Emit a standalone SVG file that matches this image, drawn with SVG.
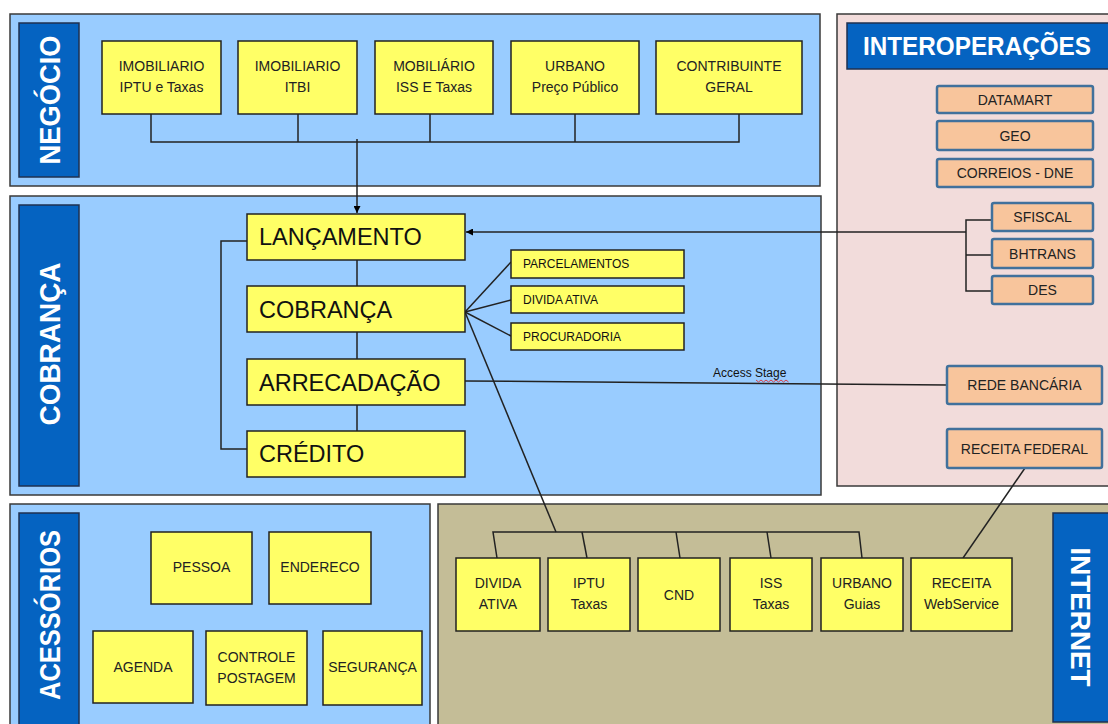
<svg xmlns="http://www.w3.org/2000/svg" width="1108" height="724" viewBox="0 0 1108 724">
<defs>
<marker id="arr" viewBox="0 0 10 10" refX="10" refY="5" markerWidth="7" markerHeight="7" orient="auto" markerUnits="userSpaceOnUse"><path d="M0,0 L10,5 L0,10 z" fill="#000"/></marker>
<style>
.panel{stroke:#3a3a3a;stroke-width:1.5}
.blue{fill:#99ccff}
.pink{fill:#f2dcdb}
.khaki{fill:#c4bd97}
.lab{fill:#0563c1;stroke:#1f3050;stroke-width:1.5}
.labt{font-family:"Liberation Sans",Arial,sans-serif;font-weight:bold;fill:#fff;text-anchor:middle}
.y{fill:#ffff66;stroke:#222;stroke-width:1.5}
.o{fill:#f8c59c;stroke:#41719c;stroke-width:2.5}
.t{font-family:"Liberation Sans",Arial,sans-serif;font-size:14px;fill:#222;text-anchor:middle}
.tb{font-family:"Liberation Sans",Arial,sans-serif;font-size:23.5px;fill:#111}
.ts{font-family:"Liberation Sans",Arial,sans-serif;font-size:12px;fill:#111}
.c{fill:none;stroke:#222;stroke-width:1.5}
</style>
</defs>
<rect width="1108" height="724" fill="#fff"/>
<g id="panel-negocio">
<rect class="panel blue" x="10" y="14" width="810" height="172"/>
<rect class="lab" x="19" y="23" width="60" height="154"/>
<text class="labt" font-size="30" textLength="129" lengthAdjust="spacingAndGlyphs" transform="translate(60,100) rotate(-90)">NEGÓCIO</text>
</g>
<g id="panel-cobranca">
<rect class="panel blue" x="10" y="196" width="811" height="299"/>
<rect class="lab" x="19" y="205" width="60" height="281"/>
<text class="labt" font-size="30" textLength="163" lengthAdjust="spacingAndGlyphs" transform="translate(60,344) rotate(-90)">COBRANÇA</text>
</g>
<g id="panel-interop">
<rect class="panel pink" x="837" y="14" width="285" height="472"/>
<rect class="lab" x="847" y="23" width="270" height="46"/>
<text class="labt" font-size="26" x="977" y="55" textLength="228" lengthAdjust="spacingAndGlyphs">INTEROPERAÇÕES</text>
</g>
<g id="panel-acessorios">
<rect class="panel blue" x="10" y="504" width="420" height="230"/>
<rect class="lab" x="19" y="513" width="60" height="215"/>
<text class="labt" font-size="30" textLength="170" lengthAdjust="spacingAndGlyphs" transform="translate(60,615) rotate(-90)">ACESSÓRIOS</text>
</g>
<g id="panel-internet">
<rect class="panel khaki" x="438" y="504" width="690" height="230"/>
<rect class="lab" x="1053" y="513" width="65" height="209"/>
<text class="labt" font-size="27" textLength="139" lengthAdjust="spacingAndGlyphs" transform="translate(1071,617) rotate(90)">INTERNET</text>
</g>
<g id="connectors">
<polyline class="c" points="151,114 151,142 739,142 739,114"/>
<line class="c" x1="298" y1="114" x2="298" y2="142"/>
<line class="c" x1="430" y1="114" x2="430" y2="142"/>
<line class="c" x1="575" y1="114" x2="575" y2="142"/>
<line class="c" x1="357" y1="139" x2="357" y2="213" marker-end="url(#arr)"/>
<line class="c" x1="357" y1="260" x2="357" y2="286"/>
<line class="c" x1="357" y1="332" x2="357" y2="359"/>
<line class="c" x1="357" y1="405" x2="357" y2="431"/>
<polyline class="c" points="247,241 221,241 221,449 247,449"/>
<line class="c" x1="465" y1="312" x2="511" y2="262"/>
<line class="c" x1="465" y1="312" x2="511" y2="300"/>
<line class="c" x1="465" y1="312" x2="511" y2="336"/>
<line class="c" x1="465" y1="312" x2="556" y2="532"/>
<polyline class="c" points="497,558 493,532 859,532 862,558"/>
<line class="c" x1="582" y1="532" x2="587" y2="558"/>
<line class="c" x1="676" y1="532" x2="680" y2="558"/>
<line class="c" x1="767" y1="532" x2="771" y2="558"/>
<polyline class="c" points="992,220 966,220 966,291 992,291"/>
<line class="c" x1="966" y1="255" x2="992" y2="255"/>
<line class="c" x1="966" y1="232" x2="466" y2="232" marker-end="url(#arr)"/>
<line class="c" x1="465" y1="381" x2="947" y2="385"/>
<line class="c" x1="1025" y1="468" x2="963" y2="558"/>
<text class="ts" font-size="11.5" x="713" y="377" fill="#222">Access Stage</text>
<path d="M756,380 l2.5,2 l2.5,-2 l2.5,2 l2.5,-2 l2.5,2 l2.5,-2 l2.5,2 l2.5,-2 l2.5,2 l2.5,-2 l2.5,2 l2.5,-2 l2.5,2" fill="none" stroke="#e03030" stroke-width="0.9"/>
</g>
<g id="n-imob-iptu"><rect class="y" x="102" y="41" width="119" height="73"/><text class="t" x="161.5" y="71">IMOBILIARIO</text><text class="t" x="161.5" y="92">IPTU e Taxas</text></g>
<g id="n-imob-itbi"><rect class="y" x="238" y="41" width="119" height="73"/><text class="t" x="297.5" y="71">IMOBILIARIO</text><text class="t" x="297.5" y="92">ITBI</text></g>
<g id="n-mob-iss"><rect class="y" x="375" y="41" width="118" height="73"/><text class="t" x="434" y="71">MOBILIÁRIO</text><text class="t" x="434" y="92">ISS E Taxas</text></g>
<g id="n-urbano"><rect class="y" x="511" y="41" width="128" height="73"/><text class="t" x="575" y="71">URBANO</text><text class="t" x="575" y="92">Preço Público</text></g>
<g id="n-contrib"><rect class="y" x="656" y="41" width="146" height="73"/><text class="t" x="729" y="71">CONTRIBUINTE</text><text class="t" x="729" y="92">GERAL</text></g>
<g id="n-lancamento"><rect class="y" x="247" y="214" width="218" height="46"/><text class="tb" x="259" y="245">LANÇAMENTO</text></g>
<g id="n-cobranca"><rect class="y" x="247" y="286" width="218" height="46"/><text class="tb" x="259" y="318">COBRANÇA</text></g>
<g id="n-arrecadacao"><rect class="y" x="247" y="359" width="218" height="46"/><text class="tb" x="259" y="391">ARRECADAÇÃO</text></g>
<g id="n-credito"><rect class="y" x="247" y="431" width="218" height="46"/><text class="tb" x="259" y="462">CRÉDITO</text></g>
<g id="n-parcel"><rect class="y" x="511" y="250" width="173" height="28"/><text class="ts" x="523" y="268">PARCELAMENTOS</text></g>
<g id="n-divida"><rect class="y" x="511" y="286" width="173" height="27"/><text class="ts" x="523" y="304">DIVIDA ATIVA</text></g>
<g id="n-procur"><rect class="y" x="511" y="323" width="173" height="27"/><text class="ts" x="523" y="341">PROCURADORIA</text></g>
<g id="n-datamart"><rect class="o" x="937" y="86" width="156" height="27" rx="2"/><text class="t" x="1015" y="104.5">DATAMART</text></g>
<g id="n-geo"><rect class="o" x="937" y="121" width="156" height="29" rx="2"/><text class="t" x="1015" y="140.5">GEO</text></g>
<g id="n-correios"><rect class="o" x="937" y="159" width="156" height="28" rx="2"/><text class="t" x="1015" y="178">CORREIOS - DNE</text></g>
<g id="n-sfiscal"><rect class="o" x="992" y="203" width="101" height="28" rx="2"/><text class="t" x="1042.5" y="222">SFISCAL</text></g>
<g id="n-bhtrans"><rect class="o" x="992" y="239" width="101" height="29" rx="2"/><text class="t" x="1042.5" y="258.5">BHTRANS</text></g>
<g id="n-des"><rect class="o" x="992" y="276" width="101" height="28" rx="2"/><text class="t" x="1042.5" y="295">DES</text></g>
<g id="n-rede"><rect class="o" x="947" y="366" width="155" height="38" rx="2"/><text class="t" x="1024.5" y="390">REDE BANCÁRIA</text></g>
<g id="n-receita-fed"><rect class="o" x="947" y="429" width="155" height="39" rx="2"/><text class="t" x="1024.5" y="453.5">RECEITA FEDERAL</text></g>
<g id="n-pessoa"><rect class="y" x="151" y="532" width="101" height="72"/><text class="t" x="201.5" y="572">PESSOA</text></g>
<g id="n-endereco"><rect class="y" x="269" y="532" width="102" height="72"/><text class="t" x="320" y="572">ENDERECO</text></g>
<g id="n-agenda"><rect class="y" x="93" y="631" width="100" height="72"/><text class="t" x="143" y="672">AGENDA</text></g>
<g id="n-controle"><rect class="y" x="206" y="631" width="101" height="74"/><text class="t" x="256.5" y="662">CONTROLE</text><text class="t" x="256.5" y="683">POSTAGEM</text></g>
<g id="n-seguranca"><rect class="y" x="323" y="631" width="99" height="74"/><text class="t" x="372.5" y="672">SEGURANÇA</text></g>
<g id="n-i-divida"><rect class="y" x="456" y="558" width="84" height="73"/><text class="t" x="498" y="588">DIVIDA</text><text class="t" x="498" y="609">ATIVA</text></g>
<g id="n-i-iptu"><rect class="y" x="548" y="558" width="82" height="73"/><text class="t" x="589" y="588">IPTU</text><text class="t" x="589" y="609">Taxas</text></g>
<g id="n-i-cnd"><rect class="y" x="638" y="558" width="82" height="73"/><text class="t" x="679" y="600">CND</text></g>
<g id="n-i-iss"><rect class="y" x="730" y="558" width="82" height="73"/><text class="t" x="771" y="588">ISS</text><text class="t" x="771" y="609">Taxas</text></g>
<g id="n-i-urbano"><rect class="y" x="821" y="558" width="82" height="73"/><text class="t" x="862" y="588">URBANO</text><text class="t" x="862" y="609">Guias</text></g>
<g id="n-i-receita"><rect class="y" x="911" y="558" width="101" height="73"/><text class="t" x="961.5" y="588">RECEITA</text><text class="t" x="961.5" y="609">WebService</text></g>
</svg>
